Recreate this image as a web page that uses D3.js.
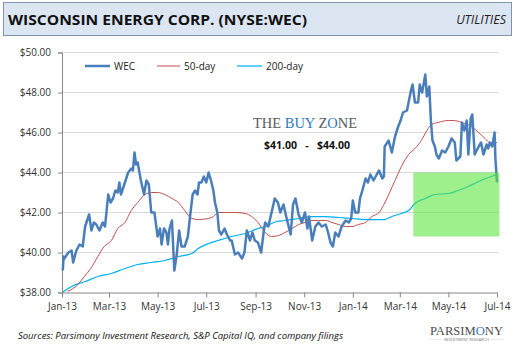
<!DOCTYPE html>
<html>
<head>
<meta charset="utf-8">
<script src="https://cdn.jsdelivr.net/npm/d3@7"></script>
<style>
  body { margin: 0; background: #fff; }
  svg { display: block; }
</style>
</head>
<body>
<svg id="chart"></svg>
<script>
// WEC closing prices
let wecDates = ['2013-01-02','2013-01-03','2013-01-04','2013-01-09','2013-01-13','2013-01-15','2013-01-19','2013-01-23','2013-01-27','2013-01-30',
  '2013-02-04','2013-02-07','2013-02-10','2013-02-13','2013-02-17','2013-02-21','2013-02-24','2013-02-28','2013-03-03','2013-03-06',
  '2013-03-09','2013-03-12','2013-03-14','2013-03-16','2013-03-21','2013-03-25','2013-03-29','2013-03-31','2013-04-02','2013-04-04',
  '2013-04-06','2013-04-10','2013-04-14','2013-04-17','2013-04-20','2013-04-23','2013-04-27','2013-05-01','2013-05-04','2013-05-06',
  '2013-05-09','2013-05-12','2013-05-14','2013-05-16','2013-05-19','2013-05-22','2013-05-25','2013-05-28','2013-05-31','2013-06-04',
  '2013-06-08','2013-06-11','2013-06-14','2013-06-17','2013-06-20','2013-06-22','2013-06-25','2013-06-28','2013-07-01','2013-07-04',
  '2013-07-07','2013-07-10','2013-07-12','2013-07-15','2013-07-17','2013-07-20','2013-07-24','2013-07-27','2013-07-31','2013-08-02',
  '2013-08-06','2013-08-10','2013-08-15','2013-08-18','2013-08-21','2013-08-25','2013-08-28','2013-08-31','2013-09-04','2013-09-08',
  '2013-09-11','2013-09-13','2013-09-17','2013-09-21','2013-09-25','2013-09-29','2013-10-02','2013-10-06','2013-10-10','2013-10-15',
  '2013-10-18','2013-10-21','2013-10-25','2013-10-29','2013-11-02','2013-11-05','2013-11-07','2013-11-11','2013-11-15','2013-11-19',
  '2013-11-23','2013-11-28','2013-12-01','2013-12-04','2013-12-07','2013-12-10','2013-12-14','2013-12-18','2013-12-23','2013-12-27',
  '2013-12-30','2014-01-01','2014-01-04','2014-01-08','2014-01-10','2014-01-13','2014-01-17','2014-01-20','2014-01-23','2014-01-27',
  '2014-01-31','2014-02-03','2014-02-07','2014-02-09','2014-02-10','2014-02-15','2014-02-19','2014-02-23','2014-02-27','2014-03-02',
  '2014-03-05','2014-03-10','2014-03-12','2014-03-15','2014-03-17','2014-03-20','2014-03-24','2014-03-26','2014-03-29','2014-04-02',
  '2014-04-04','2014-04-07','2014-04-09','2014-04-11','2014-04-14','2014-04-16','2014-04-19','2014-04-23','2014-04-27','2014-05-01',
  '2014-05-05','2014-05-09','2014-05-11','2014-05-16','2014-05-18','2014-05-21','2014-05-24','2014-05-26','2014-05-29','2014-05-31',
  '2014-06-03','2014-06-08','2014-06-11','2014-06-14','2014-06-18','2014-06-20','2014-06-22','2014-06-25','2014-06-28','2014-06-29',
  '2014-07-01'];
let wecClose = [39.1,39.8,39.7,40.0,40.1,39.5,40.1,40.4,40.3,41.3,
  41.9,41.1,41.5,41.4,41.1,41.5,41.3,42.9,42.5,42.7,
  43.1,43.0,43.5,42.9,43.5,44.0,44.2,44.1,45.0,44.4,
  44.5,43.6,42.9,43.6,43.4,42.0,42.0,40.8,41.2,40.4,
  41.2,41.0,40.4,41.2,41.6,39.1,39.9,41.1,40.3,40.3,
  40.8,41.9,42.9,43.1,42.9,43.5,43.5,43.8,43.5,44.0,
  43.6,43.1,42.5,42.0,41.1,40.9,41.2,40.9,40.6,40.6,
  39.9,40.0,39.7,40.0,41.1,40.6,41.0,40.6,40.5,40.0,
  41.0,41.5,41.3,42.0,42.7,42.5,42.0,42.4,41.7,40.9,
  42.4,42.7,41.9,41.5,42.0,41.2,41.8,40.6,41.3,41.5,
  41.3,41.4,41.0,40.5,40.3,41.0,40.8,41.3,41.6,41.5,
  41.7,42.6,42.0,42.0,42.7,43.1,43.7,43.5,43.9,43.6,
  43.9,44.1,43.7,43.8,45.3,45.6,45.0,45.8,46.3,46.6,
  47.0,47.1,47.5,48.1,48.4,47.5,47.5,48.4,48.0,48.9,
  47.8,48.3,46.6,45.6,45.3,44.9,44.7,45.1,45.0,45.3,
  45.7,45.5,44.6,44.8,46.5,46.1,46.6,44.9,46.7,46.9,
  44.9,45.3,45.5,44.9,45.4,45.2,45.5,45.3,46.0,44.7,
  43.5];

// 50-day moving average
let ma50Dates = ['2013-01-08','2013-01-21','2013-01-29','2013-02-06','2013-02-15','2013-02-23','2013-03-04','2013-03-12','2013-03-21','2013-03-29',
  '2013-04-06','2013-04-15','2013-04-23','2013-05-01','2013-05-10','2013-05-19','2013-05-27','2013-06-04','2013-06-13','2013-06-21',
  '2013-07-04','2013-07-10','2013-07-16','2013-07-29','2013-08-06','2013-08-19','2013-08-27','2013-09-04','2013-09-13','2013-09-21',
  '2013-09-30','2013-10-08','2013-10-17','2013-10-25','2013-11-02','2013-11-11','2013-11-19','2013-11-28','2013-12-06','2013-12-14',
  '2013-12-23','2013-12-31','2014-01-08','2014-01-17','2014-01-25','2014-02-03','2014-02-09','2014-02-23','2014-03-03','2014-03-12',
  '2014-03-20','2014-03-28','2014-04-04','2014-04-10','2014-04-18','2014-05-01','2014-05-07','2014-05-18','2014-05-30','2014-06-08',
  '2014-06-16','2014-06-22','2014-07-01'];
let ma50Values = [38.05,38.4,38.8,39.2,39.8,40.3,40.6,41.2,41.5,42.1,
  42.5,42.9,43.0,43.0,42.9,42.7,42.5,42.1,41.7,41.65,
  41.7,41.8,42.0,42.0,42.0,41.95,41.8,41.5,41.0,40.8,
  40.85,41.0,41.2,41.4,41.5,41.6,41.6,41.6,41.5,41.4,
  41.3,41.3,41.4,41.5,41.8,42.0,42.4,43.6,44.3,44.9,
  45.2,45.6,46.1,46.4,46.5,46.6,46.6,46.5,46.3,46.0,
  45.7,45.5,45.5];

// 200-day moving average
let ma200Dates = ['2013-01-02','2013-01-13','2013-01-30','2013-02-15','2013-03-04','2013-03-21','2013-04-06','2013-04-23','2013-05-10','2013-05-27',
  '2013-06-13','2013-06-21','2013-07-04','2013-07-16','2013-08-02','2013-08-19','2013-09-04','2013-09-13','2013-09-27','2013-10-08',
  '2013-10-25','2013-11-11','2013-11-28','2013-12-14','2013-12-31','2014-01-17','2014-02-03','2014-02-10','2014-02-19','2014-03-03',
  '2014-03-12','2014-03-20','2014-04-02','2014-04-14','2014-05-01','2014-05-13','2014-05-26','2014-06-08','2014-06-20','2014-07-01'];
let ma200Values = [38.02,38.3,38.55,38.8,38.95,39.2,39.4,39.5,39.6,39.8,
  39.95,40.2,40.45,40.6,40.8,40.95,41.2,41.3,41.55,41.6,
  41.7,41.8,41.8,41.75,41.7,41.65,41.65,41.65,41.8,41.95,
  42.1,42.45,42.7,42.9,42.95,43.1,43.3,43.55,43.75,43.9];

// axis ticks
let yTicks = [38, 40, 42, 44, 46, 48, 50];
let xTicks = ['2013-01-01','2013-03-01','2013-05-01','2013-07-01','2013-09-01','2013-11-01',
  '2014-01-01','2014-03-01','2014-05-01','2014-07-01'];

// buy zone box
let buyZoneDates = ['2014-03-18', '2014-07-04'];
let buyZonePrices = [40.8, 44.0];
let buyZoneText = '$41.00   -   $44.00';

let legendLabels = ['WEC', '50-day', '200-day'];

let width = 516;
let height = 351;
let parse = d3.timeParse('%Y-%m-%d');

let svg = d3.select('#chart')
    .attr('width', width)
    .attr('height', height)
    .style('font-family', '"Open Sans", "Liberation Sans", sans-serif');

svg.append('rect').attr('width', width).attr('height', height).attr('fill', '#fff');

// header band
svg.append('rect')
    .attr('x', 3.5).attr('y', 2.5)
    .attr('width', 508).attr('height', 33)
    .attr('fill', '#dce6f2')
    .attr('stroke', '#7f93ad')
    .attr('stroke-width', 1);

svg.append('text')
    .attr('x', 8).attr('y', 24.5)
    .attr('font-size', 15)
    .attr('font-weight', 'bold')
    .attr('fill', '#111')
    .attr('textLength', 299)
    .attr('lengthAdjust', 'spacingAndGlyphs')
    .text('WISCONSIN ENERGY CORP. (NYSE:WEC)');

svg.append('text')
    .attr('x', 506).attr('y', 24)
    .attr('text-anchor', 'end')
    .attr('font-size', 12.5)
    .attr('font-style', 'italic')
    .attr('fill', '#222')
    .text('UTILITIES');

// scales
let xScale = d3.scaleTime()
    .domain([parse('2013-01-01'), parse('2014-07-01')])
    .range([62, 497]);

let yScale = d3.scaleLinear()
    .domain([38, 50])
    .range([292.5, 52.5]);

// gridlines
svg.append('g')
    .selectAll('line')
    .data(yTicks.filter(d => d > 38))
    .enter()
    .append('line')
    .attr('x1', 62).attr('x2', 498)
    .attr('y1', d => yScale(d)).attr('y2', d => yScale(d))
    .attr('stroke', '#d9d9d9')
    .attr('stroke-width', 1);

// y axis
let yAxis = d3.axisLeft(yScale)
    .tickValues(yTicks)
    .tickFormat(d => '$' + d3.format('.2f')(d))
    .tickSize(4)
    .tickPadding(7);

let yG = svg.append('g')
    .attr('transform', 'translate(62, 0)')
    .call(yAxis);
yG.select('.domain').attr('stroke', '#888');
yG.selectAll('.tick line').attr('stroke', '#888');
yG.selectAll('text')
    .attr('font-family', '"Open Sans", "Liberation Sans", sans-serif')
    .attr('font-size', 10)
    .attr('fill', '#333');

// x axis
let xAxis = d3.axisBottom(xScale)
    .tickValues(xTicks.map(parse))
    .tickFormat(d3.timeFormat('%b-%y'))
    .tickSizeInner(5)
    .tickSizeOuter(0)
    .tickPadding(5);

let xG = svg.append('g')
    .attr('transform', 'translate(0, 292.5)')
    .call(xAxis);
xG.select('.domain').attr('stroke', '#888');
xG.selectAll('.tick line').attr('stroke', '#888');
xG.selectAll('text')
    .attr('font-family', '"Open Sans", "Liberation Sans", sans-serif')
    .attr('font-size', 10)
    .attr('fill', '#333');

// lines
let makeLine = (curve) => d3.line()
    .x(d => xScale(d[0]))
    .y(d => yScale(d[1]))
    .curve(curve);

let wec = wecDates.map((d, i) => [parse(d), wecClose[i]]);
let ma50 = ma50Dates.map((d, i) => [parse(d), ma50Values[i]]);
let ma200 = ma200Dates.map((d, i) => [parse(d), ma200Values[i]]);

svg.append('path')
    .datum(ma200)
    .attr('d', makeLine(d3.curveMonotoneX))
    .attr('fill', 'none')
    .attr('stroke', '#00b0f0')
    .attr('stroke-width', 1.25);

svg.append('path')
    .datum(ma50)
    .attr('d', makeLine(d3.curveMonotoneX))
    .attr('fill', 'none')
    .attr('stroke', '#c0504d')
    .attr('stroke-width', 1);

svg.append('path')
    .datum(wec)
    .attr('d', makeLine(d3.curveLinear))
    .attr('fill', 'none')
    .attr('stroke', '#4a7ebb')
    .attr('stroke-width', 2.5)
    .attr('stroke-linejoin', 'round');

// buy zone box
svg.append('rect')
    .attr('x', xScale(parse(buyZoneDates[0])))
    .attr('y', yScale(buyZonePrices[1]))
    .attr('width', xScale(parse(buyZoneDates[1])) - xScale(parse(buyZoneDates[0])))
    .attr('height', yScale(buyZonePrices[0]) - yScale(buyZonePrices[1]))
    .attr('fill', 'rgb(93,230,63)')
    .attr('fill-opacity', 0.6);

// legend
let legendItems = [
    { x1: 85, x2: 110, tx: 114, color: '#4a7ebb', w: 2.5 },
    { x1: 157, x2: 180, tx: 184, color: '#c0504d', w: 1 },
    { x1: 237, x2: 262, tx: 266, color: '#00b0f0', w: 1.25 }
];
let legend = svg.append('g');
legendItems.forEach((item, i) => {
    legend.append('line')
        .attr('x1', item.x1).attr('x2', item.x2)
        .attr('y1', 66).attr('y2', 66)
        .attr('stroke', item.color)
        .attr('stroke-width', item.w);
    legend.append('text')
        .attr('x', item.tx).attr('y', 69.5)
        .attr('font-size', 10)
        .attr('fill', '#222')
        .text(legendLabels[i]);
});

// THE BUY ZONE label
let bz = svg.append('text')
    .attr('x', 253).attr('y', 128)
    .attr('font-family', '"Liberation Serif", "DejaVu Serif", serif')
    .attr('font-size', 14.5)
    .attr('textLength', 104)
    .attr('lengthAdjust', 'spacingAndGlyphs');
bz.append('tspan').attr('fill', '#5a5a5a').text('THE ');
bz.append('tspan').attr('fill', '#2e7ac0').text('BUY ');
bz.append('tspan').attr('fill', '#5a5a5a').text('Z');
bz.append('tspan').attr('fill', '#2e7ac0').text('O');
bz.append('tspan').attr('fill', '#5a5a5a').text('NE');

svg.append('text')
    .attr('x', 264).attr('y', 149)
    .attr('font-size', 10.5)
    .attr('font-weight', 'bold')
    .attr('fill', '#111')
    .attr('xml:space', 'preserve')
    .style('white-space', 'pre')
    .attr('textLength', 86)
    .attr('lengthAdjust', 'spacing')
    .text(buyZoneText);

// sources
svg.append('text')
    .attr('x', 18).attr('y', 339)
    .attr('font-size', 9.5)
    .attr('font-style', 'italic')
    .attr('fill', '#111')
    .attr('textLength', 325)
    .attr('lengthAdjust', 'spacingAndGlyphs')
    .text('Sources: Parsimony Investment Research, S&P Capital IQ, and company filings');

// Parsimony logo
let logo = svg.append('text')
    .attr('x', 430).attr('y', 335)
    .attr('font-family', '"Liberation Serif", "DejaVu Serif", serif')
    .attr('font-size', 12)
    .attr('textLength', 73)
    .attr('lengthAdjust', 'spacingAndGlyphs');
logo.append('tspan').attr('fill', '#4d4d4d').text('PARSIM');
logo.append('tspan').attr('fill', '#2e7ac0').text('O');
logo.append('tspan').attr('fill', '#4d4d4d').text('NY');

svg.append('line')
    .attr('x1', 430).attr('x2', 503)
    .attr('y1', 339.5).attr('y2', 339.5)
    .attr('stroke', '#ddd')
    .attr('stroke-width', 0.6);
svg.append('rect')
    .attr('x', 443).attr('y', 337.5).attr('width', 47).attr('height', 4)
    .attr('fill', '#fff');
svg.append('text')
    .attr('x', 466.5).attr('y', 341)
    .attr('text-anchor', 'middle')
    .attr('font-size', 3.5)
    .attr('fill', '#777')
    .attr('textLength', 45)
    .attr('lengthAdjust', 'spacingAndGlyphs')
    .text('INVESTMENT RESEARCH');
</script>
</body>
</html>
